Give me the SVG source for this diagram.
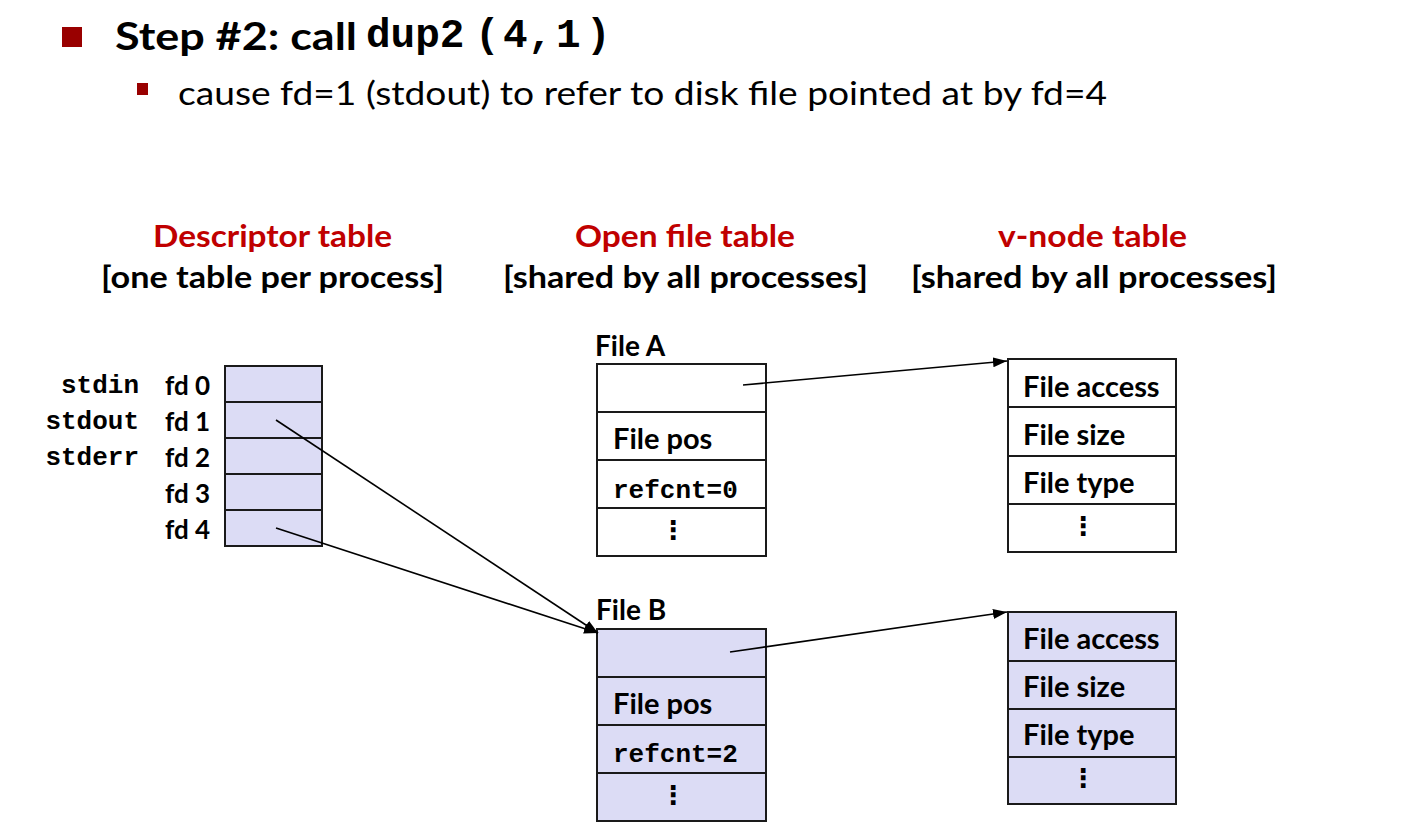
<svg xmlns="http://www.w3.org/2000/svg" width="1403" height="833" viewBox="0 0 1403 833">
<defs>
<marker id="arr" viewBox="0 0 14 10" refX="14" refY="5" markerWidth="14" markerHeight="10" markerUnits="userSpaceOnUse" orient="auto">
<path d="M0,0 L14,5 L0,10 z" fill="#000"/>
</marker>
<style>
.cal{font-family:Lato,"Open Sans","Liberation Sans",sans-serif;font-weight:bold;}
.reg{font-family:Lato,"Open Sans","Liberation Sans",sans-serif;}
.mono{font-family:"Liberation Mono","Courier New",monospace;font-weight:bold;}
.red{fill:#c00000;}
.cell{stroke:#1a1a1a;stroke-width:2;}
.blank{fill:#ffffff;}
.lav{fill:#dcdcf5;}
.t{font-size:29px;fill:#000;}
.m{font-size:26px;fill:#000;}
.fd{font-size:26px;fill:#000;}
.lbl{font-size:28px;fill:#000;}
.dots{font-family:"DejaVu Sans",sans-serif;font-weight:bold;font-size:26px;fill:#000;text-anchor:middle;}
.conn{stroke:#000;stroke-width:1.6;fill:none;}
</style>
</defs>
<rect width="1403" height="833" fill="#fff"/>

<g id="title">
<rect x="62" y="27" width="20" height="20" fill="#990000"/>
<text x="115" y="50" class="cal" font-size="38" textLength="242" lengthAdjust="spacingAndGlyphs">Step #2: call</text>
<text class="mono" font-size="41" y="47"><tspan x="366">dup2</tspan><tspan x="475">(</tspan><tspan x="503">4</tspan><tspan x="528">,</tspan><tspan x="556">1</tspan><tspan x="586">)</tspan></text>
<rect x="137" y="83" width="11" height="12" fill="#990000"/>
<text x="178" y="105" class="reg" font-size="32" textLength="929" lengthAdjust="spacingAndGlyphs">cause fd=1 (stdout) to refer to disk file pointed at by fd=4</text>
</g>

<g id="headers">
<text x="153" y="247" class="cal red" font-size="30" textLength="239" lengthAdjust="spacingAndGlyphs">Descriptor table</text>
<text x="101" y="288" class="cal" font-size="30" textLength="343" lengthAdjust="spacingAndGlyphs">[one table per process]</text>
<text x="575" y="247" class="cal red" font-size="30" textLength="220" lengthAdjust="spacingAndGlyphs">Open file table</text>
<text x="503" y="288" class="cal" font-size="30" textLength="365" lengthAdjust="spacingAndGlyphs">[shared by all processes]</text>
<text x="998" y="247" class="cal red" font-size="30" textLength="189" lengthAdjust="spacingAndGlyphs">v-node table</text>
<text x="911" y="288" class="cal" font-size="30" textLength="366" lengthAdjust="spacingAndGlyphs">[shared by all processes]</text>
</g>

<g id="descriptor-table">
<rect x="225" y="366" width="97" height="36" class="cell lav"/>
<rect x="225" y="402" width="97" height="36" class="cell lav"/>
<rect x="225" y="438" width="97" height="36" class="cell lav"/>
<rect x="225" y="474" width="97" height="36" class="cell lav"/>
<rect x="225" y="510" width="97" height="36" class="cell lav"/>
<text x="139" y="393" class="mono m" text-anchor="end">stdin</text>
<text x="139" y="429" class="mono m" text-anchor="end">stdout</text>
<text x="139" y="465" class="mono m" text-anchor="end">stderr</text>
<text x="165" y="395" class="cal fd">fd 0</text>
<text x="165" y="431" class="cal fd">fd 1</text>
<text x="165" y="467" class="cal fd">fd 2</text>
<text x="165" y="503" class="cal fd">fd 3</text>
<text x="165" y="539" class="cal fd">fd 4</text>
</g>

<g id="file-a">
<text x="595" y="356" class="cal lbl">File A</text>
<rect x="597" y="364" width="169" height="48" class="cell blank"/>
<rect x="597" y="412" width="169" height="48" class="cell blank"/>
<rect x="597" y="460" width="169" height="48" class="cell blank"/>
<rect x="597" y="508" width="169" height="48" class="cell blank"/>
<text x="613" y="449" class="cal t">File pos</text>
<text x="613" y="498" class="mono m">refcnt=0</text>
<text x="673" y="539" class="dots">⋮</text>
</g>

<g id="file-b">
<text x="596" y="620" class="cal lbl">File B</text>
<rect x="597" y="629" width="169" height="48" class="cell lav"/>
<rect x="597" y="677" width="169" height="48" class="cell lav"/>
<rect x="597" y="725" width="169" height="48" class="cell lav"/>
<rect x="597" y="773" width="169" height="48" class="cell lav"/>
<text x="613" y="714" class="cal t">File pos</text>
<text x="613" y="762" class="mono m">refcnt=2</text>
<text x="673" y="804" class="dots">⋮</text>
</g>

<g id="vnode-a">
<rect x="1008" y="359" width="168" height="48" class="cell blank"/>
<rect x="1008" y="407" width="168" height="49" class="cell blank"/>
<rect x="1008" y="456" width="168" height="48" class="cell blank"/>
<rect x="1008" y="504" width="168" height="48" class="cell blank"/>
<text x="1023" y="397" class="cal t">File access</text>
<text x="1023" y="445" class="cal t">File size</text>
<text x="1023" y="493" class="cal t">File type</text>
<text x="1083" y="535" class="dots">⋮</text>
</g>

<g id="vnode-b">
<rect x="1008" y="612" width="168" height="49" class="cell lav"/>
<rect x="1008" y="661" width="168" height="48" class="cell lav"/>
<rect x="1008" y="709" width="168" height="48" class="cell lav"/>
<rect x="1008" y="757" width="168" height="47" class="cell lav"/>
<text x="1023" y="649" class="cal t">File access</text>
<text x="1023" y="697" class="cal t">File size</text>
<text x="1023" y="745" class="cal t">File type</text>
<text x="1083" y="787" class="dots">⋮</text>
</g>

<g id="connectors">
<line x1="743" y1="385" x2="1007" y2="361" class="conn" marker-end="url(#arr)"/>
<line x1="730" y1="652" x2="1007" y2="612" class="conn" marker-end="url(#arr)"/>
<line x1="276" y1="420" x2="598" y2="633" class="conn" marker-end="url(#arr)"/>
<line x1="276" y1="528" x2="598" y2="633" class="conn" marker-end="url(#arr)"/>
</g>
</svg>
